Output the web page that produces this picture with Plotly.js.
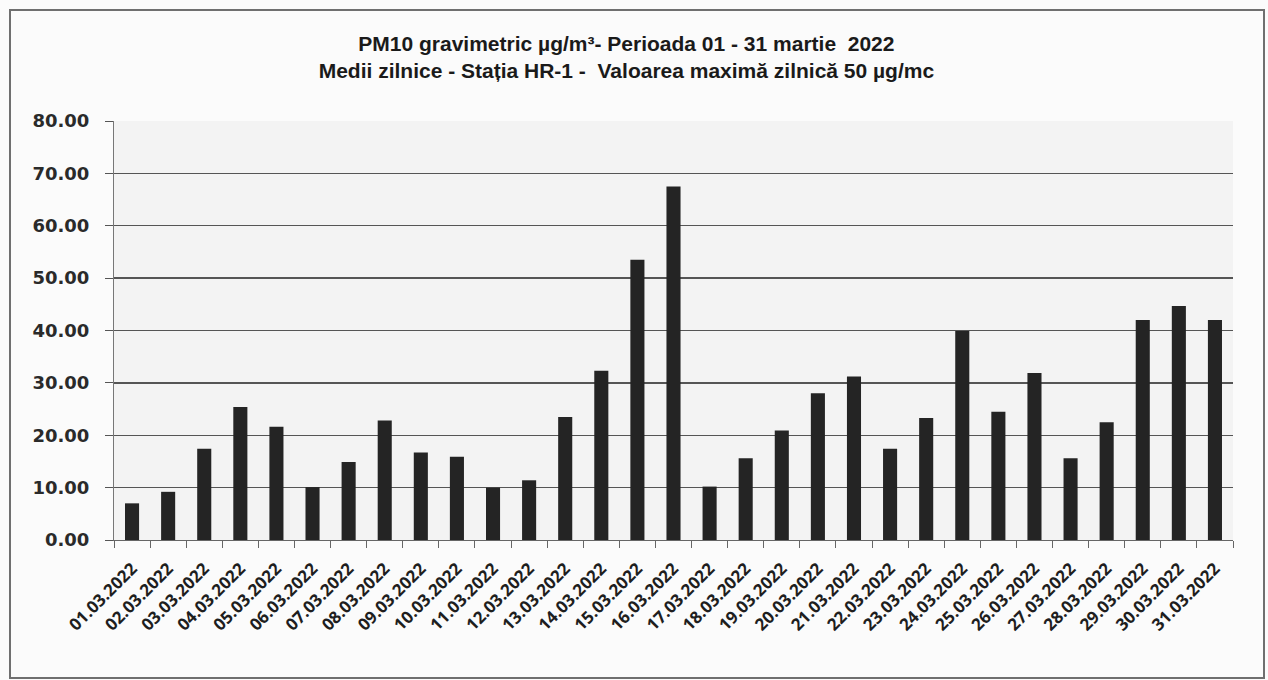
<!DOCTYPE html>
<html>
<head>
<meta charset="utf-8">
<script src="https://cdn.plot.ly/plotly-3.0.1.min.js"></script>
<style>
  html, body { margin: 0; padding: 0; background: #fbfbfb; }
  #chart { width: 1268px; height: 680px; position: relative; }
  #frame { position: absolute; left: 9px; top: 9px; width: 1252px; height: 666px;
           border: 2px solid #6f6f6f; pointer-events: none; }
</style>
</head>
<body>
<div id="chart"></div>
<div id="frame"></div>
<script>
const dates = [
  "01.03.2022","02.03.2022","03.03.2022","04.03.2022","05.03.2022","06.03.2022",
  "07.03.2022","08.03.2022","09.03.2022","10.03.2022","11.03.2022","12.03.2022",
  "13.03.2022","14.03.2022","15.03.2022","16.03.2022","17.03.2022","18.03.2022",
  "19.03.2022","20.03.2022","21.03.2022","22.03.2022","23.03.2022","24.03.2022",
  "25.03.2022","26.03.2022","27.03.2022","28.03.2022","29.03.2022","30.03.2022",
  "31.03.2022"
];
const pm10 = [
  7.0, 9.2, 17.4, 25.4, 21.6, 10.1,
  14.9, 22.8, 16.7, 15.9, 10.0, 11.4,
  23.5, 32.3, 53.5, 67.5, 10.2, 15.6,
  20.9, 28.0, 31.2, 17.4, 23.3, 39.9,
  24.5, 31.9, 15.6, 22.5, 42.0, 44.7,
  42.0
];
const titleLines = [
  "PM10 gravimetric µg/m³- Perioada 01 - 31 martie  2022",
  "Medii zilnice - Stația HR-1 -  Valoarea maximă zilnică 50 µg/mc"
];

const trace = {
  type: "bar",
  x: dates,
  y: pm10,
  marker: { color: "#242424" },
  hoverinfo: "x+y"
};

const layout = {
  width: 1268,
  height: 680,
  margin: { l: 114, r: 35, t: 121, b: 140 },
  paper_bgcolor: "#fbfbfb",
  plot_bgcolor: "#f3f3f3",
  showlegend: false,
  bargap: 0.61,
  title: {
    text: titleLines.join("<br>"),
    x: 0.494, xanchor: "center",
    y: 0.925, yanchor: "top",
    font: { family: "Liberation Sans, Arial, sans-serif", size: 21, color: "#1a1a1a", weight: "bold" }
  },
  font: { family: "DejaVu Sans, sans-serif", color: "#222" },
  xaxis: {
    type: "category",
    tickangle: -45,
    tickson: "boundaries",
    ticks: "outside",
    ticklen: 7,
    tickcolor: "#666",
    tickwidth: 1,
    showline: true,
    linecolor: "#666",
    linewidth: 1,
    showgrid: false,
    ticklabelstandoff: 11,
    tickfont: { family: "Open Sans, sans-serif", size: 17, color: "#1e1e1e", weight: "bold" },
    automargin: false
  },
  yaxis: {
    range: [0, 80],
    dtick: 10,
    tickformat: ".2f",
    ticks: "outside",
    ticklen: 8,
    tickcolor: "#555",
    showline: true,
    linecolor: "#777",
    linewidth: 1,
    showgrid: true,
    gridcolor: "#555",
    gridwidth: 1.3,
    zeroline: false,
    ticklabelstandoff: 12,
    tickfont: { family: "DejaVu Sans, sans-serif", size: 18, color: "#2a2a2a", weight: "bold" },
    automargin: false
  }
};

Plotly.newPlot("chart", [trace], layout, { displayModeBar: false, staticPlot: true });
</script>
</body>
</html>
